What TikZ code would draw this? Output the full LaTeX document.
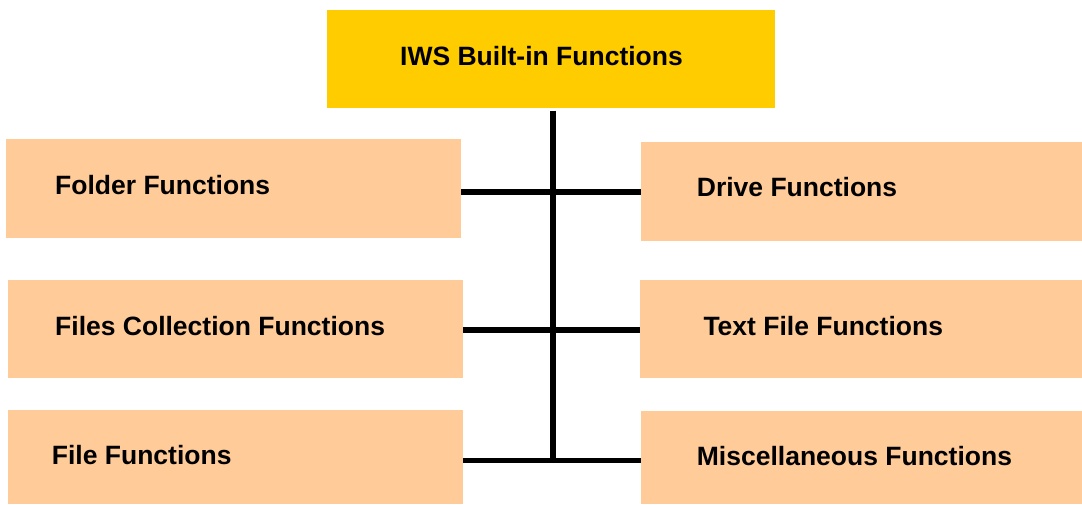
\documentclass[tikz,border=0pt]{standalone}
\usepackage{fontspec}
\setmainfont{Liberation Sans}
\definecolor{peach}{HTML}{FFCC99}
\definecolor{gold}{HTML}{FFCC00}
\begin{document}
\begin{tikzpicture}[x=1pt,y=-1pt,
  box/.style={fill=peach,draw=none,inner sep=0pt,anchor=north west},
  lbl/.style={anchor=base west,inner sep=0pt,font=\fontsize{26.5}{30}\selectfont\bfseries},
  conn/.style={line width=5.5pt,black}]
\useasboundingbox (0,0) rectangle (1082,504);
% boxes
\node[box,fill=gold,minimum width=448pt,minimum height=98pt] (top) at (327,10) {};
\node[box,minimum width=455pt,minimum height=99pt] (folder) at (6,139) {};
\node[box,minimum width=455pt,minimum height=97.5pt] (files) at (8,280) {};
\node[box,minimum width=455pt,minimum height=94pt] (file) at (8,410) {};
\node[box,minimum width=441pt,minimum height=99pt] (drive) at (641,142) {};
\node[box,minimum width=442pt,minimum height=98pt] (text) at (640,279.5) {};
\node[box,minimum width=441pt,minimum height=93pt] (misc) at (641,411) {};
% labels
\node[lbl] (ltop) at (400,65.7) {IWS Built-in Functions};
\node[lbl] (lfolder) at (55,194.3) {Folder Functions};
\node[lbl] (lfiles) at (55,335) {Files Collection Functions};
\node[lbl] (lfile) at (51.7,464.3) {File Functions};
\node[lbl] (ldrive) at (696.7,196.7) {Drive Functions};
\node[lbl] (ltext) at (703.3,335) {Text File Functions};
\node[lbl] (lmisc) at (696.7,465) {Miscellaneous Functions};
% connectors
\coordinate (vtop) at (553,110.5);
\coordinate (vbot) at (553,463);
\draw[conn] (vtop) -- (vbot);
\draw[conn] (folder.east |- 0,192) -- (drive.west |- 0,192);
\draw[conn] (files.east |- 0,330) -- (text.west |- 0,330);
\draw[conn] (file.east |- 0,460.7) -- (misc.west |- 0,460.7);
\end{tikzpicture}
\end{document}
